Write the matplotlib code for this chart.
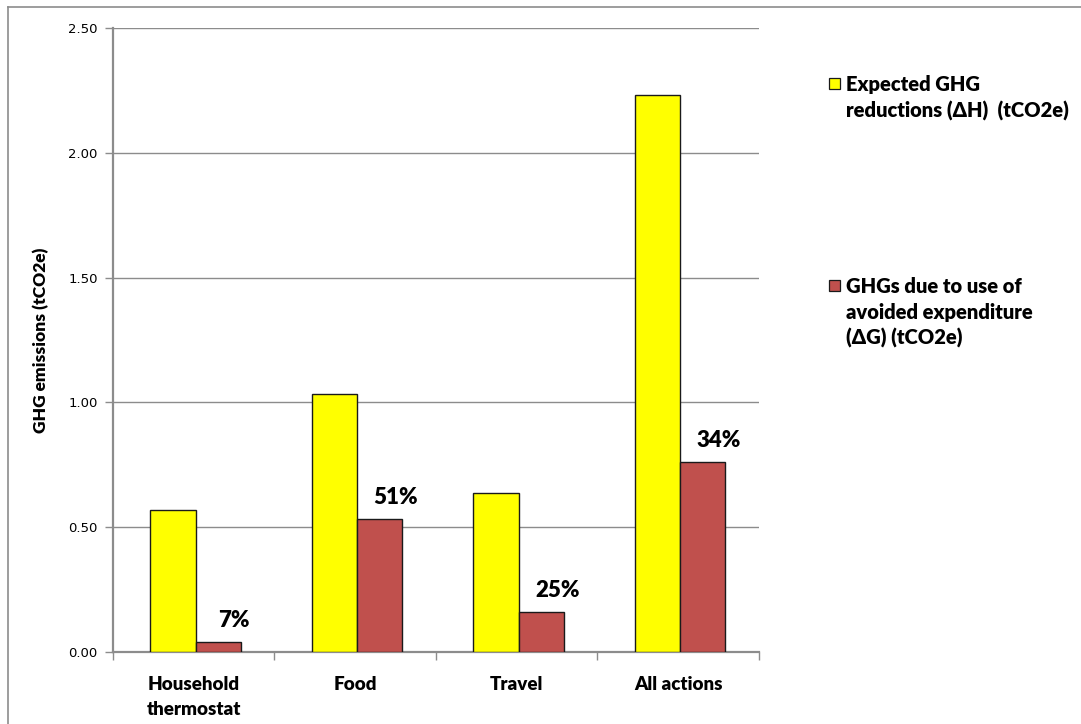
import numpy as np
import matplotlib
matplotlib.use("Agg")
import matplotlib.pyplot as plt
from matplotlib.patches import Rectangle
from matplotlib.lines import Line2D

# Data
categories = ["Household\nthermostat", "Food", "Travel", "All actions"]
expected_reductions = [0.57, 1.035, 0.638, 2.233]   # delta H (tCO2e)
rebound_emissions = [0.041, 0.532, 0.160, 0.761]    # delta G (tCO2e)
rebound_pct = ["7%", "51%", "25%", "34%"]

legend_labels = [
    "Expected GHG\nreductions (\u0394H)  (tCO2e)",
    "GHGs due to use of\navoided expenditure\n(\u0394G) (tCO2e)",
]

YELLOW = "#ffff00"
RED = "#c0504d"
GRID = "#8c8c8c"
LABEL_FONT = ["Lato", "DejaVu Sans"]

fig = plt.figure(figsize=(10.81, 7.24), dpi=100)
ax = fig.add_axes([0.1045, 0.0994, 0.5975, 0.8619])

x = np.arange(len(categories))
width = 0.28
shift = 0.012

ax.bar(x - width / 2 + shift, expected_reductions, width, color=YELLOW,
       edgecolor="#1a1a1a", linewidth=1.0, zorder=3)
bars = ax.bar(x + width / 2 + shift, rebound_emissions, width, color=RED,
              edgecolor="#1a1a1a", linewidth=1.0, zorder=3)

for rect, pct in zip(bars, rebound_pct):
    ax.annotate(pct, (rect.get_x() + rect.get_width() / 2, rect.get_height()),
                xytext=(11.5, 11), textcoords="offset points",
                ha="center", va="baseline", fontsize=16, fontweight="heavy",
                family=LABEL_FONT)

ax.set_xlim(-0.5, len(categories) - 0.5)
ax.set_ylim(0, 2.5)
ax.set_yticks(np.arange(0, 2.51, 0.5))
ax.set_yticklabels([f"{v:.2f}" for v in np.arange(0, 2.51, 0.5)], fontsize=9.5)
ax.yaxis.grid(True, color=GRID, linewidth=1.0, zorder=0)

# category labels sit between the boundary ticks
ax.set_xticks(np.arange(-0.5, len(categories)), labels=[""] * (len(categories) + 1))
ax.set_xticks(x, labels=categories, minor=True)
ax.tick_params(axis="x", which="minor", length=0, pad=17)
ax.tick_params(axis="x", which="major", length=6, color=GRID, width=1.0)
ax.tick_params(axis="y", length=6, color=GRID, width=1.0, pad=5)
for lbl in ax.get_xticklabels(minor=True):
    lbl.set_fontsize(13.5)
    lbl.set_fontweight("heavy")
    lbl.set_family(LABEL_FONT)
    lbl.set_linespacing(1.6)

for side in ["top", "right"]:
    ax.spines[side].set_visible(False)
for side in ["left", "bottom"]:
    ax.spines[side].set_color(GRID)
    ax.spines[side].set_linewidth(1.6)

ax.set_ylabel("GHG emissions (tCO2e)", fontsize=12.5, fontweight="heavy",
              family=LABEL_FONT, labelpad=14)

# legend drawn by hand so the swatch lines up with the first line of text
legend_colors = [YELLOW, RED]
legend_tops = [0.893, 0.614]
for color, top, label in zip(legend_colors, legend_tops, legend_labels):
    fig.patches.append(Rectangle((829 / 1081, top - 0.016), 11 / 1081, 0.0155,
                                 transform=fig.transFigure, facecolor=color,
                                 edgecolor="#1a1a1a", linewidth=0.9))
    fig.text(846 / 1081, top + 0.003, label, ha="left", va="top", fontsize=14.5,
             fontweight="heavy", family=LABEL_FONT, linespacing=1.4)

# chart area border
fig.add_artist(Line2D([8 / 1081, 1.0], [1 - 7 / 724, 1 - 7 / 724],
                      transform=fig.transFigure, color="#8c8c8c", linewidth=1.2))
fig.add_artist(Line2D([8 / 1081, 8 / 1081], [0.0, 1 - 7 / 724],
                      transform=fig.transFigure, color="#8c8c8c", linewidth=1.2))

fig.savefig("out.png", dpi=100)
